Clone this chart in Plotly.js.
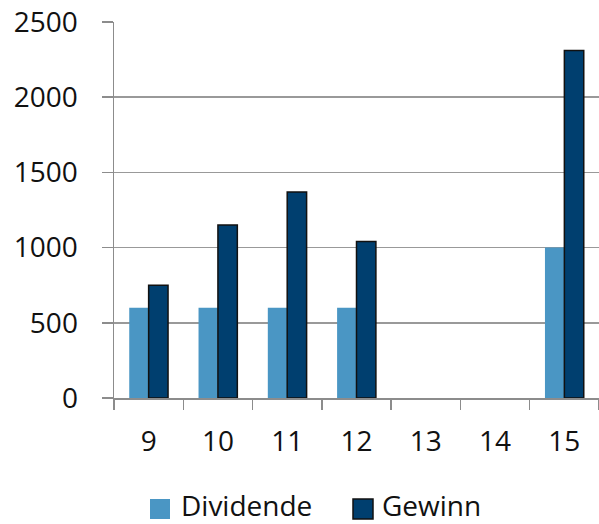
<!DOCTYPE html>
<html>
<head>
<meta charset="utf-8">
<script src="https://cdn.plot.ly/plotly-3.0.1.min.js"></script>
<style>html,body{margin:0;padding:0;background:#fff;}#chart{width:599px;height:524px;}</style>
</head>
<body>
<div id="chart"></div>
<script>
var categories = ["9", "10", "11", "12", "13", "14", "15"];
var dividende = [600, 600, 600, 600, null, null, 1000];
var gewinn = [750, 1150, 1370, 1040, null, null, 2310];
var yTicks = [0, 500, 1000, 1500, 2000, 2500];
var seriesNames = ["Dividende", "Gewinn"];
var seriesColors = ["#4A96C4", "#003F6F"];

var FONT = "Open Sans, Noto Sans, sans-serif";
var W = 599, H = 524, ML = 114, MR = 0, MT = 22, MB = 126;
var PW = W - ML - MR, PH = H - MT - MB;
function px(x) { return (x - ML) / PW; }
function py(y) { return (H - MB - y) / PH; }

var data = [
  {type: "bar", name: seriesNames[0], x: categories, y: dividende,
   marker: {color: seriesColors[0], line: {width: 0}}},
  {type: "bar", name: seriesNames[1], x: categories, y: gewinn,
   marker: {color: seriesColors[1], line: {color: "#111111", width: 1.5}}}
];

// manual legend (larger swatches like the reference)
var legendItems = [{sx: 150, tx: 180}, {sx: 353, tx: 381}];
var shapes = [], annotations = [];
legendItems.forEach(function (it, i) {
  shapes.push({type: "rect", xref: "paper", yref: "paper",
    x0: px(it.sx), x1: px(it.sx + 20), y0: py(519), y1: py(499),
    fillcolor: seriesColors[i],
    line: {width: i === 1 ? 1.5 : 0, color: "#111111"}});
  annotations.push({xref: "paper", yref: "paper", x: px(it.tx), y: py(505),
    xanchor: "left", yanchor: "middle", showarrow: false, borderpad: 0, text: seriesNames[i],
    font: {family: FONT, size: 28, color: "#111"}});
});

var layout = {
  width: W, height: H,
  margin: {l: ML, r: MR, t: MT, b: MB},
  paper_bgcolor: "#fff", plot_bgcolor: "#fff",
  font: {family: FONT, size: 28, color: "#111"},
  barmode: "group", bargap: 0.44, bargroupgap: 0,
  showlegend: false,
  shapes: shapes, annotations: annotations,
  xaxis: {type: "category", automargin: false, showline: true, linecolor: "#8c8c8c", linewidth: 1.5,
          ticks: "outside", ticklen: 10, tickwidth: 1.5, tickcolor: "#8c8c8c",
          tickson: "boundaries", showgrid: false, zeroline: false,
          tickfont: {family: FONT, size: 28, color: "#111"}, ticklabelstandoff: 18},
  yaxis: {range: [0, 2500], automargin: false, tickvals: yTicks, showline: true, linecolor: "#8c8c8c", linewidth: 1.5,
          ticks: "outside", ticklen: 11, tickwidth: 1.5, tickcolor: "#8c8c8c",
          showgrid: true, gridcolor: "#999999", gridwidth: 1.5, zeroline: false,
          tickfont: {family: FONT, size: 28, color: "#111"}, ticklabelstandoff: 18}
};
Plotly.newPlot("chart", data, layout, {displayModeBar: false, staticPlot: true});
</script>
</body>
</html>
